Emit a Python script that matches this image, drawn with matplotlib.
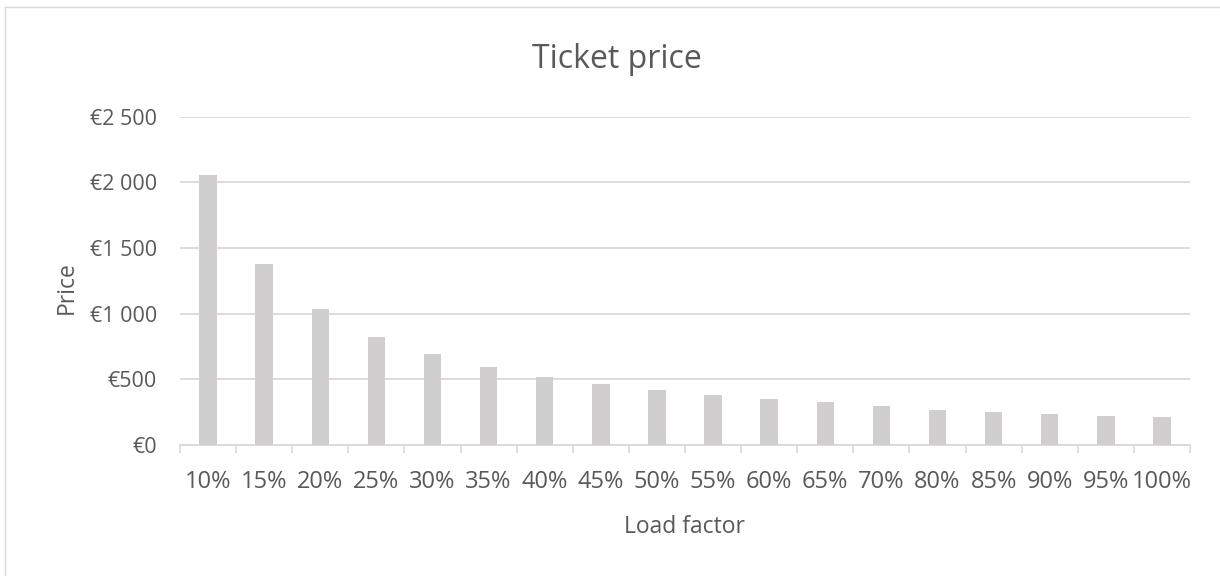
import matplotlib
matplotlib.use("Agg")
import matplotlib.pyplot as plt
from matplotlib.lines import Line2D

categories = ["10%", "15%", "20%", "25%", "30%", "35%", "40%", "45%", "50%",
              "55%", "60%", "65%", "70%", "80%", "85%", "90%", "95%", "100%"]
prices = [2058, 1377, 1034, 826, 691, 594, 518, 465, 417,
          384, 348, 325, 300, 267, 251, 236, 221, 213]
yticks = [0, 500, 1000, 1500, 2000, 2500]
ytick_labels = ["€0", "€500", "€1 000", "€1 500", "€2 000", "€2 500"]

plt.rcParams['font.family'] = ['Open Sans', 'DejaVu Sans']
text_color = "#595959"
grid_color = "#d9d9d9"

W, H = 1220, 576
fig = plt.figure(figsize=(W/100, H/100), dpi=100)
ax = fig.add_axes([180/W, 1-445/H, (1190-180)/W, (445-116.7)/H])

x = list(range(len(categories)))
ax.bar(x, prices, width=0.31, color="#d0cece", zorder=3)
ax.set_xlim(-0.5, len(categories)-0.5)
ax.set_ylim(0, 2500)
ax.set_yticks(yticks)
ax.set_yticklabels(ytick_labels)
ax.set_xticks(x)
ax.set_xticklabels(categories)
ax.yaxis.grid(True, color=grid_color, linewidth=1.3, zorder=0)
for s in ["top", "right", "left"]:
    ax.spines[s].set_visible(False)
ax.spines["bottom"].set_color(grid_color)
ax.spines["bottom"].set_linewidth(1.3)
ax.tick_params(axis="y", length=0, pad=16.5, labelsize=15.5, labelcolor=text_color)
ax.tick_params(axis="x", which="major", length=0, pad=18, labelsize=17, labelcolor=text_color)
ax.set_xticks([i - 0.5 for i in range(len(categories)+1)], minor=True)
ax.tick_params(axis="x", which="minor", length=6, width=1.2, color=grid_color)

ax.set_ylabel("Price", fontsize=16.5, color=text_color)
ax.yaxis.set_label_coords(67/W, 0.5, transform=fig.transFigure)
ax.set_xlabel("Load factor", fontsize=16.5, color=text_color)
ax.xaxis.set_label_coords(0.5 * (180 + 1190) / W, 1-527/H, transform=fig.transFigure)
ax.xaxis.label.set_va("center")
ax.yaxis.label.set_va("center")
fig.text(617/W, 1-68/H, "Ticket price", ha="center", va="baseline",
         fontsize=23, color=text_color)

# chart border (top and left visible)
fig.add_artist(Line2D([5/W, 1], [1-7/H, 1-7/H], transform=fig.transFigure, color=grid_color, lw=1))
fig.add_artist(Line2D([5/W, 5/W], [0, 1-7/H], transform=fig.transFigure, color=grid_color, lw=1))

fig.savefig("out.png", dpi=100, facecolor="white")
